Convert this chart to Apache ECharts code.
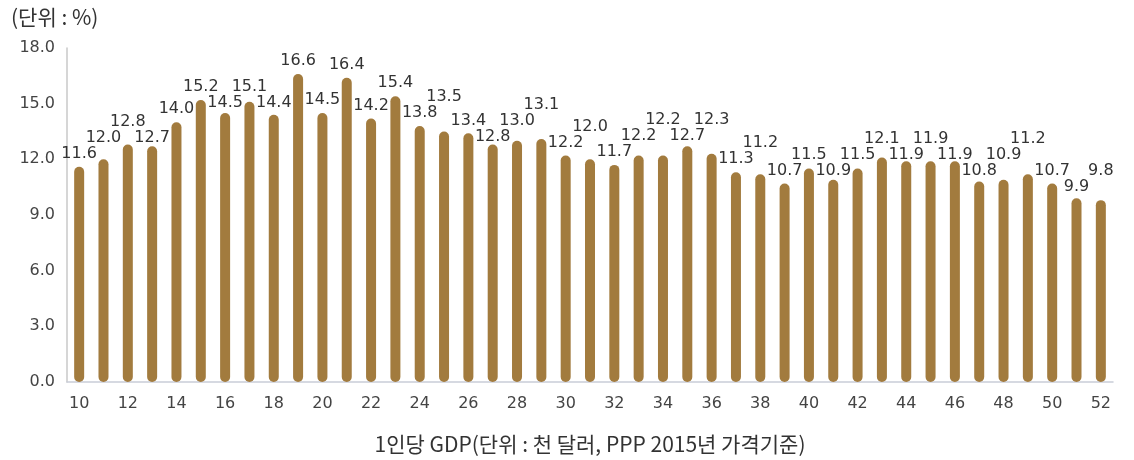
<!DOCTYPE html>
<html>
<head>
<meta charset="utf-8">
<script src="https://cdn.jsdelivr.net/npm/echarts@6/dist/echarts.min.js"></script>
<style>
  html, body { margin: 0; padding: 0; background: #ffffff; }
  #chart { width: 1134px; height: 460px; }
</style>
</head>
<body>
<div id="chart"></div>
<script>
  // 1인당 GDP(천 달러) 구간별 값 (%)
  var gdpLevels = [10, 11, 12, 13, 14, 15, 16, 17, 18, 19, 20, 21, 22, 23, 24, 25, 26, 27, 28, 29, 30,
    31, 32, 33, 34, 35, 36, 37, 38, 39, 40, 41, 42, 43, 44, 45, 46, 47, 48, 49, 50, 51, 52];
  var rates = [11.6, 12.0, 12.8, 12.7, 14.0, 15.2, 14.5, 15.1, 14.4, 16.6, 14.5, 16.4, 14.2, 15.4,
    13.8, 13.5, 13.4, 12.8, 13.0, 13.1, 12.2, 12.0, 11.7, 12.2, 12.2, 12.7, 12.3, 11.3, 11.2, 10.7,
    11.5, 10.9, 11.5, 12.1, 11.9, 11.9, 11.9, 10.8, 10.9, 11.2, 10.7, 9.9, 9.8];
  var yTicks = { min: 0, max: 18, interval: 3 };

  var FONT = "'DejaVu Sans', 'Noto Sans CJK KR', sans-serif";
  var KR_FONT = "'Noto Sans CJK KR', sans-serif";
  var BAR_COLOR = "#a27b3e";

  // 이웃 라벨이 겹치면 위/아래로 엇갈리게 배치
  var LABEL_STEP = 16;
  var LABEL_TOL = 8;
  var placed = [];

  function staggerLabel(params) {
    var i = params.dataIndex;
    var r = params.labelRect;
    var c0 = r.y + r.height / 2;
    var c = c0;
    if (i > 0 && placed[i - 1] != null && Math.abs(c0 - placed[i - 1]) < LABEL_STEP) {
      var down = placed[i - 1] + LABEL_STEP;
      var up = placed[i - 1] - LABEL_STEP;
      c = down <= c0 + LABEL_TOL ? down : up;
    }
    placed[i] = c;
    return { dy: c - c0 };
  }

  var chart = echarts.init(document.getElementById("chart"), null, { renderer: "canvas" });

  chart.setOption({
    backgroundColor: "#ffffff",
    animation: false,
    textStyle: { fontFamily: FONT },
    title: {
      text: "(단위 : %)",
      left: 6,
      top: 2,
      textStyle: { fontFamily: KR_FONT, fontSize: 21, fontWeight: "normal", color: "#333333" }
    },
    grid: { left: 67, right: 21, top: 48, bottom: 76, containLabel: false },
    xAxis: {
      type: "category",
      data: gdpLevels,
      name: "1인당 GDP(단위 : 천 달러, PPP 2015년 가격기준)",
      nameLocation: "middle",
      nameGap: 52,
      nameTextStyle: { fontFamily: KR_FONT, fontSize: 21, color: "#333333" },
      axisLine: { lineStyle: { color: "#c9cdd8", width: 1.5 } },
      axisTick: { show: false },
      axisLabel: {
        interval: 1,
        margin: 14,
        fontSize: 16,
        color: "#444444"
      }
    },
    yAxis: {
      type: "value",
      min: yTicks.min,
      max: yTicks.max,
      interval: yTicks.interval,
      axisLine: { show: true, lineStyle: { color: "#c8c8c8", width: 1.5 } },
      axisTick: { show: false },
      splitLine: { show: false },
      axisLabel: {
        margin: 12,
        fontSize: 16,
        color: "#444444",
        formatter: function (v) { return v.toFixed(1); }
      }
    },
    series: [
      {
        type: "bar",
        data: rates,
        barWidth: 10,
        itemStyle: { color: BAR_COLOR, borderRadius: 5 },
        label: {
          show: true,
          position: "top",
          distance: 5,
          fontSize: 16,
          color: "#333333",
          formatter: function (p) { return p.value.toFixed(1); }
        },
        labelLayout: staggerLabel
      }
    ]
  });
</script>
</body>
</html>
